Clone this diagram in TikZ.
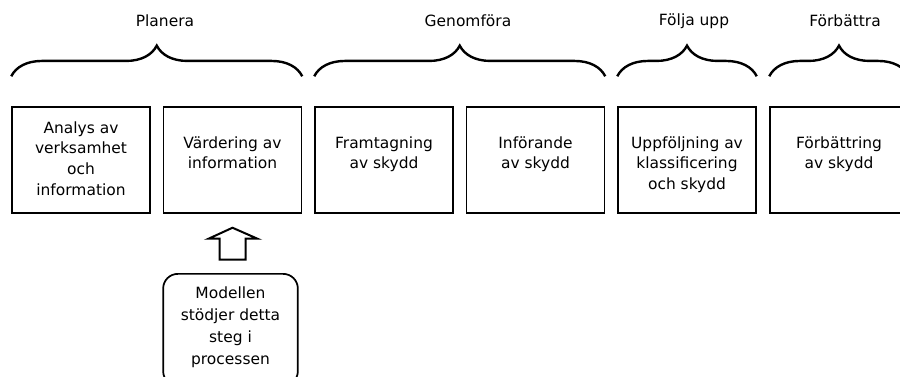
\documentclass[tikz,border=0pt]{standalone}
\usepackage{fontspec}
\setmainfont{DejaVu Sans}
\usetikzlibrary{decorations.pathreplacing, positioning}
\tikzstyle{stepbox} = [rectangle, minimum width=103.5pt, minimum height=79.5pt, draw=black, line width=1.1pt]
\tikzstyle{steptext} = [anchor=north, align=center, inner sep=0pt, font=\fontsize{11.6}{15.5}\selectfont]
\tikzstyle{phase} = [font=\fontsize{11.6}{14}\selectfont]
\tikzstyle{bracket} = [decorate, decoration={brace, amplitude=23pt}, line width=1.8pt]
\tikzstyle{note} = [rectangle, rounded corners=11pt, minimum width=101pt, minimum height=84pt, draw=black, line width=1.3pt]
\tikzstyle{hollow} = [draw=black, line width=1.5pt, line join=miter]

\begin{document}
\begin{tikzpicture}[x=0.75pt, y=-0.75pt]
      \useasboundingbox (0,0) rectangle (900,376);
      \clip (0,0) rectangle (900,376);

      % steps
      \node (b1) [stepbox] at (81,160)    {};
      \node (b2) [stepbox] at (232.5,160) {};
      \node (b3) [stepbox] at (384,160)   {};
      \node (b4) [stepbox] at (535.5,160) {};
      \node (b5) [stepbox] at (687,160)   {};
      \node (b6) [stepbox] at (839,160)   {};

      \node (t1) [steptext] at (81,121)    {Analys av\\verksamhet\\och\\information};
      \node (t2) [steptext] at (232.5,136) {Värdering av\\information};
      \node (t3) [steptext] at (384,136)   {Framtagning\\av skydd};
      \node (t4) [steptext] at (535.5,136) {Införande\\av skydd};
      \node (t5) [steptext] at (687,136)   {Uppföljning av\\klassificering\\och skydd};
      \node (t6) [steptext] at (839,136)   {Förbättring\\av skydd};

      % phases
      \node (planera)  [phase] at (165,21) {Planera};
      \node (genomf)   [phase] at (468,21) {Genomföra};
      \node (foljaupp) [phase] at (694,21) {Följa upp};
      \node (forbattr) [phase] at (845,21) {Förbättra};

      \draw [bracket] ([yshift=22.5pt]b1.north west) -- ([yshift=22.5pt]b2.north east);
      \draw [bracket] ([yshift=22.5pt]b3.north west) -- ([yshift=22.5pt]b4.north east);
      \draw [bracket] ([yshift=22.5pt]b5.north west) -- ([yshift=22.5pt]b5.north east);
      \draw [bracket] ([yshift=22.5pt]b6.north west) -- ([yshift=22.5pt]b6.north east);

      % model note
      \node (model) [note, anchor=north] at (230.5,273) {};
      \node (tm) [steptext, font=\fontsize{11.6}{16.5}\selectfont] at (230.5,286)
            {Modellen\\stödjer detta\\steg i\\processen};

      \draw [hollow] ([shift={(0,14)}]b2.south) -- ([shift={(25,25)}]b2.south)
            -- ([shift={(13,25)}]b2.south) -- ([shift={(13,46)}]b2.south)
            -- ([shift={(-13,46)}]b2.south) -- ([shift={(-13,25)}]b2.south)
            -- ([shift={(-24,25)}]b2.south) -- cycle;
    \end{tikzpicture}
\end{document}
